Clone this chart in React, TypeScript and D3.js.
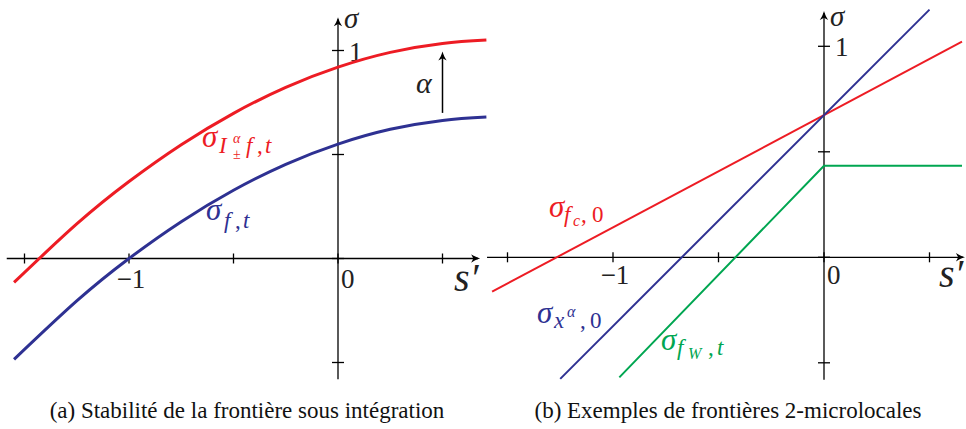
import React from 'react';
import * as d3 from 'd3';

// ---- data ----
const sTicks = [-1.5, -1, -0.5, 0, 0.5];
const sigmaTicks = [-0.5, 0, 0.5, 1];
const sTickLabels = [{ s: -1, label: '\u22121' }, { s: 0, label: '0' }];

// panel (a): boundary before / after integration
const curveS = [-1.55, -1.25, -1, -0.75, -0.5, -0.25, 0, 0.25, 0.5, 0.71];
const sigmaFt = [-0.485, -0.204, 0, 0.177, 0.328, 0.453, 0.55, 0.621, 0.664, 0.68];
const sigmaIft = [-0.115, 0.166, 0.37, 0.547, 0.698, 0.823, 0.92, 0.991, 1.034, 1.05];
const alphaArrow = { s: 0.5, from: 0.7, to: 0.995 };

// panel (b): example 2-microlocal boundaries
const fcS = [-1.573, 0.654];
const fcSigma = [-0.163, 1.022];
const xAlphaS = [-1.25, 0.5];
const xAlphaSigma = [-0.576, 1.174];
const fwS = [-0.97, 0, 0.654];
const fwSigma = [-0.569, 0.434, 0.434];

const RED = '#ed1c24';
const BLUE = '#2e3192';
const GREEN = '#00a651';
const MATH = 'Liberation Serif, Times New Roman, serif';

const zip = (xs: number[], ys: number[]) => xs.map((x, i) => [x, ys[i]] as [number, number]);

const ArrowHead = ({ x, y, dir }: { x: number; y: number; dir: 'up' | 'right' }) => (
  <path
    d="M0,0 C-1,3.5 -2.5,6.5 -4.2,9 L0,6.8 L4.2,9 C2.5,6.5 1,3.5 0,0 Z"
    transform={`translate(${x},${y}) rotate(${dir === 'up' ? 0 : 90})`}
    fill="#000"
  />
);

type Piece = { t: string; x: number; y: number; size: number; italic?: boolean };

// one <text> per label, every glyph group placed with its own tspan
const MathLabel = ({ pieces, color }: { pieces: Piece[]; color: string }) => (
  <text fill={color} style={{ fontFamily: MATH }}>
    {pieces.map((p, i) => (
      <tspan key={i} x={p.x} y={p.y} fontSize={p.size} fontStyle={p.italic === false ? 'normal' : 'italic'}>
        {p.t}
      </tspan>
    ))}
  </text>
);

const Axes = ({ x, y, sDomain, sigmaDomain, labelDy, sigmaY }: any) => {
  const x0 = x(0);
  const y0 = y(0);
  return (
    <g stroke="#000" strokeWidth={1.3} fill="none">
      <line x1={x(sDomain[0])} x2={x(sDomain[1]) - 2} y1={y0} y2={y0} />
      <line x1={x0} x2={x0} y1={y(sigmaDomain[0])} y2={y(sigmaDomain[1]) + 2} />
      {sTicks.map(t => (
        <line key={'s' + t} x1={x(t)} x2={x(t)} y1={y0 - 5} y2={y0 + 5} />
      ))}
      {sigmaTicks.map(t => (
        <line key={'g' + t} x1={x0 - 6} x2={x0 + 6} y1={y(t)} y2={y(t)} />
      ))}
      <g stroke="none">
        <ArrowHead x={x(sDomain[1])} y={y0} dir="right" />
        <ArrowHead x={x0} y={y(sigmaDomain[1])} dir="up" />
      </g>
      <g stroke="none" fill="#222" style={{ fontFamily: MATH }} fontSize={27}>
        {sTickLabels.map(d => (
          <text key={d.label} x={d.s === 0 ? x0 + 3 : x(d.s) + 2} y={y0 + 29 + labelDy} textAnchor={d.s === 0 ? 'start' : 'middle'}>
            {d.label}
          </text>
        ))}
        <text x={x0 + 11} y={y(1) + 10}>1</text>
        <text x={x0 + 6} y={sigmaY} fontStyle="italic" fontSize={29}>σ</text>
        <text x={x(sDomain[1]) - 26} y={y0 + 32 + labelDy} fontStyle="italic" fontSize={40}>s′</text>
      </g>
    </g>
  );
};

export default function App() {
  // panel (a) scales
  const xa = d3.scaleLinear().domain([0, 1]).range([338, 547]);
  const ya = d3.scaleLinear().domain([0, 1]).range([258.5, 50.5]);
  // panel (b) scales
  const xb = d3.scaleLinear().domain([0, 1]).range([824, 1035]);
  const yb = d3.scaleLinear().domain([0, 1]).range([257.3, 46.3]);

  const lineA = d3
    .line<[number, number]>()
    .x(d => xa(d[0]))
    .y(d => ya(d[1]))
    .curve(d3.curveNatural);
  const lineB = d3
    .line<[number, number]>()
    .x(d => xb(d[0]))
    .y(d => yb(d[1]));

  return (
    <svg width={966} height={429} style={{ position: 'absolute', left: 0, top: 0, background: '#fff' }}>
      {/* ---- panel (a) ---- */}
      <Axes x={xa} y={ya} sDomain={[-1.585, 0.68]} sigmaDomain={[-0.58, 1.16]} labelDy={0} sigmaY={28} />
      <path d={lineA(zip(curveS, sigmaIft)) || ''} fill="none" stroke={RED} strokeWidth={3} />
      <path d={lineA(zip(curveS, sigmaFt)) || ''} fill="none" stroke={BLUE} strokeWidth={3} />
      <line
        x1={xa(alphaArrow.s)}
        x2={xa(alphaArrow.s)}
        y1={ya(alphaArrow.from)}
        y2={ya(alphaArrow.to) + 4}
        stroke="#000"
        strokeWidth={1.5}
      />
      <ArrowHead x={xa(alphaArrow.s)} y={ya(alphaArrow.to)} dir="up" />
      <text x={416} y={93} style={{ fontFamily: MATH }} fontStyle="italic" fontSize={30} fill="#222">α</text>
      <MathLabel
        color={RED}
        pieces={[
          { t: 'σ', x: 202, y: 147, size: 31 },
          { t: 'I', x: 219, y: 153, size: 23 },
          { t: 'α', x: 233, y: 143, size: 14 },
          { t: '±', x: 233, y: 159, size: 14, italic: false },
          { t: 'f', x: 246, y: 153, size: 23 },
          { t: ',', x: 257, y: 153, size: 23, italic: false },
          { t: 't', x: 265, y: 153, size: 23 },
        ]}
      />
      <MathLabel
        color={BLUE}
        pieces={[
          { t: 'σ', x: 206, y: 220, size: 31 },
          { t: 'f', x: 224, y: 228, size: 23 },
          { t: ',', x: 235, y: 228, size: 23, italic: false },
          { t: 't', x: 243, y: 228, size: 23 },
        ]}
      />

      {/* ---- panel (b) ---- */}
      <Axes x={xb} y={yb} sDomain={[-1.597, 0.668]} sigmaDomain={[-0.58, 1.167]} labelDy={-2} sigmaY={26} />
      <path d={lineB(zip(fcS, fcSigma)) || ''} fill="none" stroke={RED} strokeWidth={2} />
      <path d={lineB(zip(xAlphaS, xAlphaSigma)) || ''} fill="none" stroke={BLUE} strokeWidth={2} />
      <path d={lineB(zip(fwS, fwSigma)) || ''} fill="none" stroke={GREEN} strokeWidth={2} />
      <MathLabel
        color={RED}
        pieces={[
          { t: 'σ', x: 549, y: 217, size: 31 },
          { t: 'f', x: 564, y: 222, size: 23 },
          { t: 'c', x: 573, y: 226, size: 16 },
          { t: ',', x: 581, y: 222, size: 23, italic: false },
          { t: '0', x: 592, y: 222, size: 23, italic: false },
        ]}
      />
      <MathLabel
        color={BLUE}
        pieces={[
          { t: 'σ', x: 537, y: 323, size: 31 },
          { t: 'x', x: 554, y: 328, size: 23 },
          { t: 'α', x: 567, y: 317, size: 16 },
          { t: ',', x: 580, y: 328, size: 23, italic: false },
          { t: '0', x: 590, y: 328, size: 23, italic: false },
        ]}
      />
      <MathLabel
        color={GREEN}
        pieces={[
          { t: 'σ', x: 661, y: 350, size: 31 },
          { t: 'f', x: 677, y: 355, size: 23 },
          { t: 'W', x: 688, y: 359, size: 16 },
          { t: ',', x: 708, y: 355, size: 23, italic: false },
          { t: 't', x: 717, y: 355, size: 23 },
        ]}
      />

      {/* ---- captions ---- */}
      <g style={{ fontFamily: MATH }} fontSize={23} fill="#111" textAnchor="middle">
        <text x={247} y={418}>(a) Stabilité de la frontière sous intégration</text>
        <text x={728} y={418}>(b) Exemples de frontières 2-microlocales</text>
      </g>
    </svg>
  );
}
